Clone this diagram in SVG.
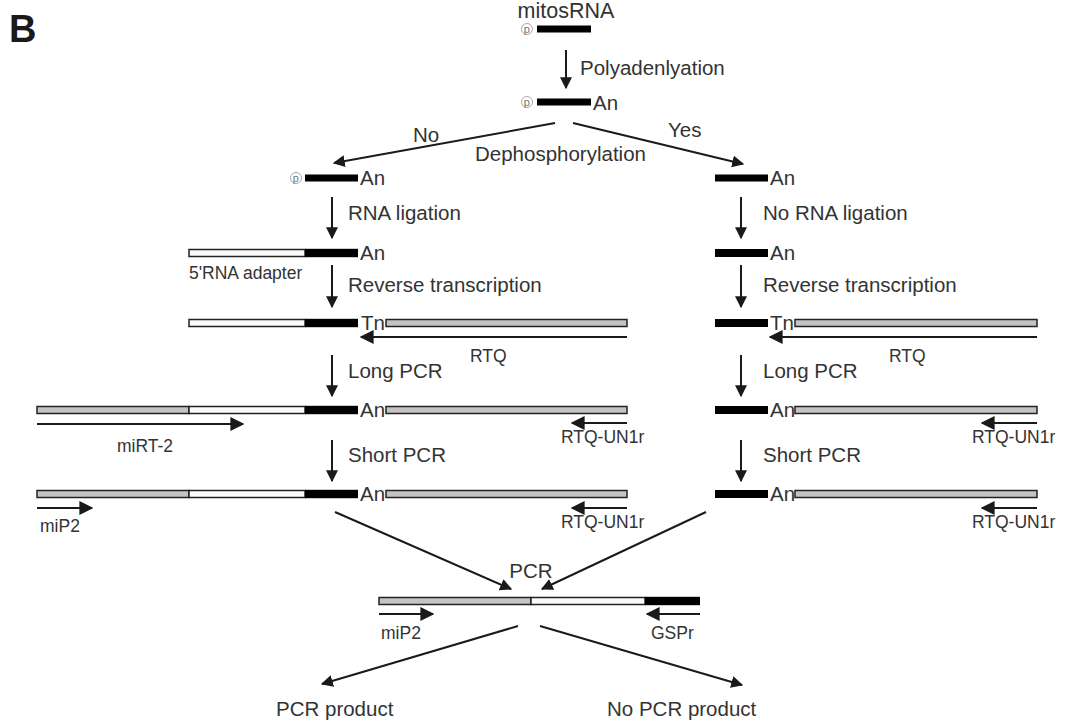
<svg xmlns="http://www.w3.org/2000/svg" width="1069" height="725" viewBox="0 0 1069 725">
<defs>
<marker id="ah" viewBox="0 0 10 10" refX="9" refY="5" markerWidth="6" markerHeight="6" markerUnits="strokeWidth" orient="auto">
<path d="M0,0 L10,5 L0,10 z" fill="#1a1a1a"/>
</marker>
<marker id="ah2" viewBox="0 0 10 10" refX="9" refY="5" markerWidth="7" markerHeight="7" markerUnits="strokeWidth" orient="auto">
<path d="M0,0 L10,5 L0,10 z" fill="#1a1a1a"/>
</marker>
</defs>
<style>
text{font-family:"Liberation Sans",Arial,sans-serif;fill:#333}
.t{font-size:20.5px}
.s{font-size:17.5px}
.blk{fill:#000}
.gry{fill:#c4c4c4;stroke:#222;stroke-width:1.5}
.wht{fill:#fafafa;stroke:#222;stroke-width:1.5}
.ar{stroke:#1a1a1a;stroke-width:2;fill:none;marker-end:url(#ah)}
.pr{stroke:#1a1a1a;stroke-width:2;fill:none;marker-end:url(#ah2)}
.p{fill:#fff;stroke:#aaa;stroke-width:1}
.pt{font-size:11px;fill:#777}
</style>
<rect width="1069" height="725" fill="#fff"/>
<text x="9" y="42" style="font-size:38px;font-weight:bold;fill:#1a1a1a">B</text>

<g id="connectors">
<line class="ar" x1="566" y1="50" x2="566" y2="88"/>
<line class="ar" x1="555" y1="123" x2="334" y2="163"/>
<line class="ar" x1="573" y1="123" x2="743" y2="164"/>
<line class="ar" x1="332" y1="197" x2="332" y2="238"/>
<line class="ar" x1="741" y1="197" x2="741" y2="238"/>
<line class="ar" x1="332" y1="265" x2="332" y2="307"/>
<line class="ar" x1="741" y1="265" x2="741" y2="307"/>
<line class="ar" x1="332" y1="355" x2="332" y2="396"/>
<line class="ar" x1="741" y1="355" x2="741" y2="396"/>
<line class="ar" x1="332" y1="440" x2="332" y2="481"/>
<line class="ar" x1="741" y1="440" x2="741" y2="481"/>
<line class="ar" x1="335" y1="512" x2="511" y2="589"/>
<line class="ar" x1="706" y1="512" x2="542" y2="589"/>
<line class="ar" x1="518" y1="626" x2="322" y2="684"/>
<line class="ar" x1="540" y1="626" x2="742" y2="685"/>
</g>

<g id="labels">
<text class="t" x="580" y="75">Polyadenlyation</text>
<text class="t" x="413" y="142">No</text>
<text class="t" x="668" y="137">Yes</text>
<text class="t" x="475" y="161">Dephosphorylation</text>
<text class="t" x="348" y="220">RNA ligation</text>
<text class="t" x="763" y="220">No RNA ligation</text>
<text class="t" x="348" y="292">Reverse transcription</text>
<text class="t" x="763" y="292">Reverse transcription</text>
<text class="t" x="348" y="378">Long PCR</text>
<text class="t" x="763" y="378">Long PCR</text>
<text class="t" x="348" y="462">Short PCR</text>
<text class="t" x="763" y="462">Short PCR</text>
<text class="t" x="531" y="578" text-anchor="middle">PCR</text>
</g>

<g id="n-mitosRNA">
<text x="566" y="18" text-anchor="middle" style="font-size:21.5px">mitosRNA</text>
<circle class="p" cx="527" cy="29" r="5.5"/>
<text class="pt" x="523.8" y="33">p</text>
<rect class="blk" x="537" y="25.5" width="54" height="7"/>
</g>

<g id="n-polyA">
<circle class="p" cx="527" cy="102" r="5.5"/>
<text class="pt" x="523.8" y="106">p</text>
<rect class="blk" x="537" y="98.5" width="54" height="7"/>
<text class="t" x="593" y="110">An</text>
</g>

<g id="n-left-dephos">
<circle class="p" cx="296" cy="178" r="5.5"/>
<text class="pt" x="292.8" y="182">p</text>
<rect class="blk" x="305" y="174.5" width="53" height="7"/>
<text class="t" x="360" y="185">An</text>
</g>
<g id="n-right-dephos">
<rect class="blk" x="715" y="174.5" width="53" height="7"/>
<text class="t" x="770" y="185">An</text>
</g>

<g id="n-left-ligated">
<rect class="wht" x="189" y="249.5" width="116" height="7"/>
<rect class="blk" x="305" y="248.8" width="53" height="8.4"/>
<text class="t" x="360" y="260">An</text>
<text class="s" x="189" y="279">5'RNA adapter</text>
</g>
<g id="n-right-noligation">
<rect class="blk" x="715" y="249" width="53" height="8"/>
<text class="t" x="770" y="260">An</text>
</g>

<g id="n-left-rt">
<rect class="wht" x="189" y="319.5" width="116" height="7"/>
<rect class="blk" x="305" y="318.8" width="53" height="8.4"/>
<text class="t" x="361" y="330">Tn</text>
<rect class="gry" x="386" y="319.5" width="241" height="7"/>
<line class="pr" x1="627" y1="337" x2="361" y2="337"/>
<text class="s" x="470" y="362">RTQ</text>
</g>
<g id="n-right-rt">
<rect class="blk" x="715" y="319" width="53" height="8"/>
<text class="t" x="770" y="330">Tn</text>
<rect class="gry" x="795" y="319.5" width="242" height="7"/>
<line class="pr" x1="1037" y1="337" x2="770" y2="337"/>
<text class="s" x="889" y="362">RTQ</text>
</g>

<g id="n-left-long">
<rect class="gry" x="37" y="406.5" width="152" height="7"/>
<rect class="wht" x="189" y="406.5" width="116" height="7"/>
<rect class="blk" x="305" y="405.8" width="53" height="8.4"/>
<text class="t" x="360" y="417">An</text>
<rect class="gry" x="386" y="406.5" width="241" height="7"/>
<line class="pr" x1="37" y1="424" x2="243" y2="424"/>
<text class="s" x="117" y="452">miRT-2</text>
<line class="pr" x1="627" y1="423" x2="572" y2="423"/>
<text class="s" x="561" y="443">RTQ-UN1r</text>
</g>
<g id="n-right-long">
<rect class="blk" x="715" y="406" width="53" height="8"/>
<text class="t" x="770" y="417">An</text>
<rect class="gry" x="795" y="406.5" width="242" height="7"/>
<line class="pr" x1="1037" y1="423" x2="982" y2="423"/>
<text class="s" x="972" y="443">RTQ-UN1r</text>
</g>

<g id="n-left-short">
<rect class="gry" x="37" y="490.5" width="152" height="7"/>
<rect class="wht" x="189" y="490.5" width="116" height="7"/>
<rect class="blk" x="305" y="489.8" width="53" height="8.4"/>
<text class="t" x="360" y="501">An</text>
<rect class="gry" x="386" y="490.5" width="241" height="7"/>
<line class="pr" x1="37" y1="508" x2="92" y2="508"/>
<text class="s" x="40" y="532">miP2</text>
<line class="pr" x1="627" y1="508" x2="572" y2="508"/>
<text class="s" x="561" y="528">RTQ-UN1r</text>
</g>
<g id="n-right-short">
<rect class="blk" x="715" y="490" width="53" height="8"/>
<text class="t" x="770" y="501">An</text>
<rect class="gry" x="795" y="490.5" width="242" height="7"/>
<line class="pr" x1="1037" y1="508" x2="982" y2="508"/>
<text class="s" x="972" y="528">RTQ-UN1r</text>
</g>

<g id="n-pcr">
<rect class="gry" x="379" y="597.5" width="152" height="7"/>
<rect class="wht" x="531" y="597.5" width="114" height="7"/>
<rect class="blk" x="645" y="596.8" width="55" height="8.4"/>
<line class="pr" x1="379" y1="614" x2="433" y2="614"/>
<text class="s" x="381" y="639">miP2</text>
<line class="pr" x1="700" y1="614" x2="647" y2="614"/>
<text class="s" x="651" y="639">GSPr</text>
</g>

<g id="n-pcr-product">
<text class="t" x="276" y="716">PCR product</text>
</g>
<g id="n-no-pcr-product">
<text class="t" x="607" y="716">No PCR product</text>
</g>
</svg>
